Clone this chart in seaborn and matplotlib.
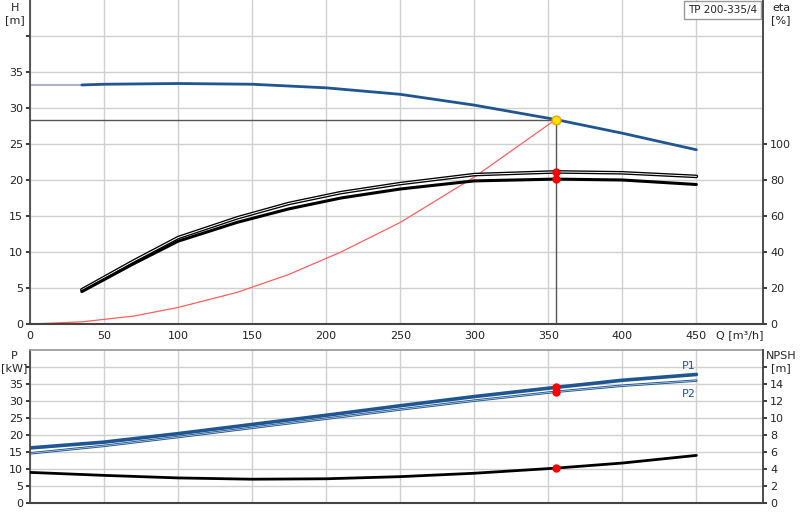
import matplotlib
matplotlib.use("Agg")
import matplotlib.pyplot as plt
import seaborn as sns
import numpy as np

sns.set_theme(style="white")
plt.rcParams['font.family'] = ['DejaVu Sans']

q_h = [35, 50, 100, 150, 200, 250, 300, 355, 400, 450]
h_vals = [33.2, 33.3, 33.4, 33.3, 32.8, 31.9, 30.4, 28.4, 26.5, 24.2]
q_eta = [35, 70, 100, 140, 175, 210, 250, 300, 355, 400, 450]
eta_upper = [19, 35, 48, 59, 67, 73, 78, 83, 84.5, 84, 82]
eta_lower = [18, 33.5, 46, 56.5, 64, 70, 75, 79.5, 80.5, 80, 77.5]
q_sys = [0, 35, 70, 100, 140, 175, 210, 250, 300, 355]
h_sys = [0, 0.3, 1.1, 2.3, 4.4, 6.9, 10, 14.1, 20.4, 28.4]
q_p = [0, 50, 100, 150, 200, 250, 300, 355, 400, 450]
p1_vals = [16.2, 17.9, 20.4, 23.1, 25.8, 28.6, 31.3, 34.0, 36.1, 37.8]
p2_vals = [14.6, 16.8, 19.4, 22.1, 24.8, 27.5, 30.1, 32.7, 34.5, 36.0]
q_npsh = [0, 50, 100, 150, 200, 250, 300, 355, 400, 450]
npsh_vals = [3.6, 3.25, 2.95, 2.8, 2.85, 3.1, 3.5, 4.1, 4.7, 5.6]
q_op, h_op = 355, 28.4
eta_op = [84.5, 80.5]
p_op = [34.0, 32.7]
npsh_op = 4.1

blue = "#1f5591"
grid_c = "#d0d0d0"
fig = plt.figure(figsize=(8, 5.2), dpi=100)
ax = fig.add_axes([30/800, 1-324/520, 733/800, 324/520])
ax2 = ax.twinx()
bx = fig.add_axes([30/800, 1-503/520, 733/800, 153/520])
bx2 = bx.twinx()

for a in (ax, bx):
    a.set_xlim(0, 495)
    a.set_ylim(0, 45)
    a.set_xticks(np.arange(0, 451, 50))
    a.set_yticks(np.arange(0, 41, 5))
    a.set_yticklabels([str(v) for v in range(0, 36, 5)] + [""])
    a.grid(True, color=grid_c, lw=1)
    a.tick_params(labelsize=8, length=3, pad=2, colors="#222222")
    for s in a.spines.values():
        s.set_color("#999999")
    a.spines['left'].set_color("#444444")
    a.spines['bottom'].set_color("#444444")
    a.spines['bottom'].set_linewidth(1.5)
ax.spines['top'].set_visible(False)
bx.set_xticklabels([])
ax.set_xticklabels([str(v) for v in range(0, 451, 50)])

ax2.set_ylim(0, 180)
ax2.set_yticks(np.arange(0, 101, 20))
ax2.tick_params(labelsize=8, length=3, pad=2)
bx2.set_ylim(0, 18)
bx2.set_yticks(np.arange(0, 17, 2))
bx2.set_yticklabels([str(v) for v in range(0, 15, 2)] + [""])
bx2.tick_params(labelsize=8, length=3, pad=2)
for a in (ax2, bx2):
    for s in a.spines.values():
        s.set_visible(False)
    a.spines['right'].set_visible(True)
    a.spines['right'].set_color("#444444")

# top panel
ax.plot([0, 35], [h_vals[0]]*2, color="#aab4c4", lw=1.5)
sns.lineplot(x=q_h, y=h_vals, ax=ax, color=blue, lw=2)
sns.lineplot(x=q_sys, y=h_sys, ax=ax, color="#ff6060", lw=0.9)
ax.plot([0, q_op], [h_op, h_op], color="#555555", lw=1)
ax.plot([q_op, q_op], [0, h_op], color="#555555", lw=1)
sns.lineplot(x=q_eta, y=eta_upper, ax=ax2, color="black", lw=2.6)
sns.lineplot(x=q_eta, y=eta_upper, ax=ax2, color="white", lw=0.7)
sns.lineplot(x=q_eta, y=eta_lower, ax=ax2, color="black", lw=2.2)
ax2.scatter([q_op]*2, eta_op, color="red", s=25, zorder=5)
ax.scatter([q_op], [h_op], color="#ffe000", edgecolor="#f0a000", s=40, zorder=6)

fig.text(15/800, 1-3/520, "H\n[m]", ha="center", va="top", fontsize=8)
fig.text(781/800, 1-3/520, "eta\n[%]", ha="center", va="top", fontsize=8)
ax.text(0.992, 0.985, "TP 200-335/4", transform=ax.transAxes, ha="right", va="top",
        fontsize=7.5, bbox=dict(boxstyle="square,pad=0.35", fc="white", ec="#999999"))
ax.text(463, -0.9, "Q [m³/h]", ha="left", va="top", fontsize=8)

# bottom panel
sns.lineplot(x=q_p, y=p1_vals, ax=bx, color=blue, lw=2.6)
sns.lineplot(x=q_p, y=p2_vals, ax=bx, color=blue, lw=1.8)
sns.lineplot(x=q_p, y=p2_vals, ax=bx, color="#c8d6ea", lw=0.5)
bx.scatter([q_op]*2, p_op, color="red", s=25, zorder=5)
sns.lineplot(x=q_npsh, y=npsh_vals, ax=bx2, color="black", lw=2)
bx2.scatter([q_op], [npsh_op], color="red", s=25, zorder=5)
bx.text(445, 39.5, "P1", color=blue, fontsize=8, ha="center")
bx.text(445, 33.5, "P2", color=blue, fontsize=8, ha="center", va="top")
fig.text(14/800, 1-351/520, "P\n[kW]", ha="center", va="top", fontsize=8)
fig.text(781/800, 1-351/520, "NPSH\n[m]", ha="center", va="top", fontsize=8)

fig.savefig("out.png", dpi=100)
